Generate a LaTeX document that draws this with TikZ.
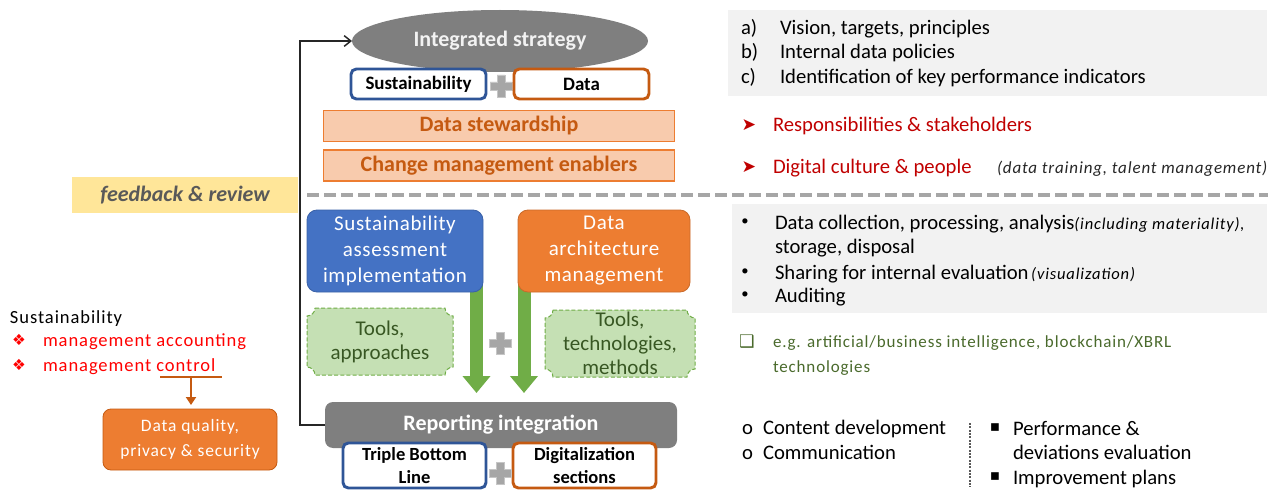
\documentclass[tikz,border=0pt]{standalone}
\usepackage{fontspec}
\setmainfont{Carlito}
\newfontfamily\symfont{DejaVu Sans}
\newfontfamily\spc[LetterSpace=5]{Carlito}
\newfontfamily\spcb[LetterSpace=3]{Carlito}
\usetikzlibrary{arrows.meta,shapes.geometric,calc,backgrounds}

\newcommand\pxu{0.75pt}
\newcommand\fsz[2]{\fontsize{#1}{#2}\selectfont}

\definecolor{midgray}{HTML}{7F7F7F}
\definecolor{bluebox}{HTML}{4472C4}
\definecolor{blueline}{HTML}{2F5597}
\definecolor{orangebox}{HTML}{ED7D31}
\definecolor{orangeline}{HTML}{C55A11}
\definecolor{peach}{HTML}{F8CBAD}
\definecolor{greenarrow}{HTML}{70AD47}
\definecolor{greenfill}{HTML}{C5E0B4}
\definecolor{greentext}{HTML}{385723}
\definecolor{notegreen}{HTML}{4A6A2C}
\definecolor{panelgray}{HTML}{F2F2F2}
\definecolor{yellowbar}{HTML}{FFE699}
\definecolor{darkred}{HTML}{C00000}
\definecolor{dashgray}{HTML}{A6A6A6}
\definecolor{txtgray}{HTML}{595959}
\definecolor{plusgray}{HTML}{A6A6A6}
\definecolor{inkdark}{HTML}{262626}

\tikzset{
  every node/.style={inner sep=0pt, outer sep=0pt},
  titletxt/.style={font=\bfseries\fsz{16.5pt}{19.5pt}},
  tagbox/.style={draw, line width=2.2pt, fill=white, rounded corners=4pt,
    minimum width=135*\pxu, minimum height=30*\pxu, font=\bfseries\fsz{14.2pt}{17pt}},
  tagboxtall/.style={tagbox, minimum width=143*\pxu, minimum height=45*\pxu,
    align=center, font=\bfseries\fsz{13.9pt}{17.25pt}},
  peachbox/.style={fill=peach, draw=orangebox, line width=1pt,
    minimum width=351*\pxu, minimum height=31*\pxu, text=orangeline, titletxt},
  colbox/.style={rounded corners=7.5pt, minimum height=82*\pxu, text=white,
    align=center, font=\spcb\fsz{15.75pt}{19.5pt}, line width=0.6pt},
  plaquetxt/.style={minimum height=67*\pxu, align=center, text=greentext,
    font=\fsz{15.75pt}{18pt}},
  plaqueshape/.style={fill=greenfill, draw=greenarrow, line width=0.75pt,
    dash pattern=on 3pt off 1.6pt},
  garrow/.style={draw=greenarrow, line width=13*\pxu,
    -{Triangle[width=27*\pxu, length=17*\pxu]}},
  sepline/.style={draw=dashgray, line width=2.6pt, dash pattern=on 9pt off 3.75pt},
  fbline/.style={draw=inkdark, line width=1.1pt,
    -{Straight Barb[length=5pt, width=8pt, line width=1.1pt]}},
  plusstyle/.style={fill=plusgray, draw=gray!45, line width=0.6pt},
  listtxt/.style={anchor=base west, font=\fsz{15.5pt}{18.4pt}},
  bullettxt/.style={font=\fsz{11pt}{13pt}},
  lefttxt/.style={anchor=base west, font=\spc\fsz{13.9pt}{18pt}},
  symtxt/.style={font=\symfont\fsz{11.5pt}{13pt}},
  notetxt/.style={anchor=base west, text=inkdark, font=\spc\itshape\fsz{12.75pt}{15pt}},
  greennote/.style={anchor=base west, text=notegreen, font=\spc\fsz{12.75pt}{15pt}},
  dotline/.style={draw=txtgray, line width=1.8pt, dash pattern=on 1.4pt off 1.1pt},
}

% plaque outline (inward rounded corners) around a node
\newcommand\plaqueframe[1]{%
  \path[plaqueshape]
    ($(#1.north west)+(8,0)$) -- ($(#1.north east)+(-8,0)$)
    .. controls ($(#1.north east)+(-8,4.4)$) and ($(#1.north east)+(-4.4,8)$) .. ($(#1.north east)+(0,8)$)
    -- ($(#1.south east)+(0,-8)$)
    .. controls ($(#1.south east)+(-4.4,-8)$) and ($(#1.south east)+(-8,-4.4)$) .. ($(#1.south east)+(-8,0)$)
    -- ($(#1.south west)+(8,0)$)
    .. controls ($(#1.south west)+(8,-4.4)$) and ($(#1.south west)+(4.4,-8)$) .. ($(#1.south west)+(0,-8)$)
    -- ($(#1.north west)+(0,8)$)
    .. controls ($(#1.north west)+(4.4,8)$) and ($(#1.north west)+(8,4.4)$) .. cycle;}

% grey plus sign centred on a coordinate
\newcommand\plussign[1]{%
  \path[plusstyle] ($(#1)+(-4,-11)$) -- ($(#1)+(4,-11)$) -- ($(#1)+(4,-4)$)
    -- ($(#1)+(11,-4)$) -- ($(#1)+(11,4)$) -- ($(#1)+(4,4)$) -- ($(#1)+(4,11)$)
    -- ($(#1)+(-4,11)$) -- ($(#1)+(-4,4)$) -- ($(#1)+(-11,4)$) -- ($(#1)+(-11,-4)$)
    -- ($(#1)+(-4,-4)$) -- cycle;}

\begin{document}
\begin{tikzpicture}[x=0.75pt,y=-0.75pt]
\useasboundingbox (0,0) rectangle (1283,492);

% ---------- strategy level ----------
\node[ellipse, fill=midgray, minimum width=296*\pxu, minimum height=62*\pxu,
      text=panelgray, titletxt] (strategy) at (500,41) {Integrated strategy};
\coordinate (plusA) at (501,86);
\plussign{plusA}
\node[tagbox, draw=blueline] (sustain) at (418.5,84) {Sustainability};
\node[tagbox, draw=orangeline] (data) at (581.5,84) {Data};
\node[peachbox] (steward) at (499,126) {Data stewardship};
\node[peachbox] (change) at (499,165.5) {Change management enablers};

\node[fill=yellowbar, minimum width=226*\pxu, minimum height=36*\pxu, text=txtgray,
      font=\bfseries\itshape\fsz{16.5pt}{19pt}] (feedback) at (185,195) {feedback \& review};

\coordinate (sepL) at (307,195);
\coordinate (sepR) at (1268,195);
\draw[sepline] (sepL) -- (sepR);

% ---------- operational level ----------
\node[colbox, fill=bluebox, draw=bluebox!85!black, minimum width=176*\pxu] (assess) at (395,251)
  {Sustainability\\assessment\\implementation};
\node[colbox, fill=orangebox, draw=orangebox!85!black, minimum width=172*\pxu] (archi) at (604,251)
  {Data\\architecture\\management};

\node[plaquetxt, minimum width=146*\pxu] (toolsA) at (380,341.5) {Tools,\\approaches};
\node[plaquetxt, minimum width=150*\pxu] (toolsB) at (620,343.5) {Tools,\\technologies,\\methods};
\coordinate (plusB) at (500,343);
\plussign{plusB}

\node[fill=midgray, rounded corners=6pt, minimum width=352*\pxu, minimum height=46*\pxu,
      text=white, titletxt] (report) at (501,425) {Reporting integration};
\node[tagboxtall, draw=blueline] (tbl) at (414.5,465.5) {Triple Bottom\\Line};
\node[tagboxtall, draw=orangeline] (digi) at (584.5,465.5) {Digitalization\\sections};
\coordinate (plusC) at (500,473);
\plussign{plusC}

\begin{scope}[on background layer]
  \plaqueframe{toolsA}
  \plaqueframe{toolsB}
  \coordinate (arrAx) at (476.5,0);
  \coordinate (arrBx) at (524,0);
  \draw[garrow, shorten <=-6pt, shorten >=6.75pt] (assess.south -| arrAx) -- (arrAx |- report.north);
  \draw[garrow, shorten <=-6pt, shorten >=6.75pt] (archi.south -| arrBx) -- (arrBx |- report.north);
\end{scope}

% feedback loop from reporting back to strategy
\draw[fbline] (report.west) -- ++(-25,0) |- (strategy.west);

% ---------- left block ----------
\node[lefttxt] (sustl) at (10,323.5) {Sustainability};
\node[symtxt, text=red] (bulA) at (19,340) {❖};
\node[lefttxt, text=red] (macc) at (43,346.5) {management accounting};
\node[symtxt, text=red] (bulB) at (19,365) {❖};
\node[lefttxt, text=red] (mctl) at (43,371.5) {management control};
\coordinate (ulL) at (160,377);
\coordinate (ulR) at (222,377);
\coordinate (ulM) at (191,377);
\draw[orangeline, line width=1.5pt] (ulL) -- (ulR);
\node[fill=orangebox, draw=orangeline, line width=0.6pt, rounded corners=6pt,
      minimum width=174*\pxu, minimum height=61*\pxu, text=white, align=center,
      font=\spc\fsz{13.1pt}{18.75pt}] (dq) at (190,439.5) {Data quality,\\privacy \& security};
\draw[orangeline, line width=1.5pt, -{Triangle[width=7.5pt,length=6pt]}, shorten >=3pt]
  (ulM) -- (ulM |- dq.north);

% ---------- right column ----------
\node[fill=panelgray, minimum width=539*\pxu, minimum height=86*\pxu] (panelA) at (997.5,53) {};
\node[listtxt] (la) at (741,35) {a)};
\node[listtxt] (ta) at (780,35) {Vision, targets, principles};
\node[listtxt] (lb) at (741,59) {b)};
\node[listtxt] (tb) at (780,59) {Internal data policies};
\node[listtxt] (lc) at (741,84) {c)};
\node[listtxt] (tc) at (780,84) {Identification of key performance indicators};

\node[symtxt, text=darkred, font=\symfont\fsz{13pt}{15pt}] (arrR) at (749,125) {➤};
\node[listtxt, text=darkred] (resp) at (773,132) {Responsibilities \& stakeholders};
\node[symtxt, text=darkred, font=\symfont\fsz{13pt}{15pt}] (arrD) at (749,167) {➤};
\node[listtxt, text=darkred] (cult) at (773,174) {Digital culture \& people};
\node[notetxt] (cultnote) at (997,173) {(data training, talent management)};

\node[fill=panelgray, minimum width=535*\pxu, minimum height=109*\pxu] (panelB) at (999.5,258.5) {};
\node[bullettxt] (dotA) at (745,222) {•};
\node[listtxt] (dA) at (775,229) {Data collection, processing, analysis{\spc\itshape\fsz{12.4pt}{15pt}(including materiality),}};
\node[listtxt] (dA2) at (775,253) {storage, disposal};
\node[bullettxt] (dotB) at (745,272) {•};
\node[listtxt] (dB) at (775,279) {Sharing for internal evaluation\hspace{2pt}{\spc\itshape\fsz{12.4pt}{15pt}(visualization)}};
\node[bullettxt] (dotC) at (745,295) {•};
\node[listtxt] (dC) at (775,302) {Auditing};

\node[symtxt, text=notegreen, font=\symfont\fsz{13pt}{15pt}] (sq) at (747,342) {❑};
\node[greennote] (gn1) at (773,347) {e.g. artificial/business intelligence, blockchain/XBRL};
\node[greennote] (gn2) at (773,372) {technologies};

\node[listtxt] (oA) at (742,434) {o};
\node[listtxt] (cd) at (763,434) {Content development};
\node[listtxt] (oB) at (742,459) {o};
\node[listtxt] (cm) at (763,459) {Communication};

\coordinate (dotTop) at (970,423);
\coordinate (dotBot) at (970,487);
\draw[dotline] (dotTop) -- (dotBot);

\node[symtxt] (sqA) at (995,428) {▪};
\node[listtxt] (pe1) at (1013,435) {Performance \&};
\node[listtxt] (pe2) at (1013,459) {deviations evaluation};
\node[symtxt] (sqB) at (995,477) {▪};
\node[listtxt] (imp) at (1013,484) {Improvement plans};
\end{tikzpicture}
\end{document}
